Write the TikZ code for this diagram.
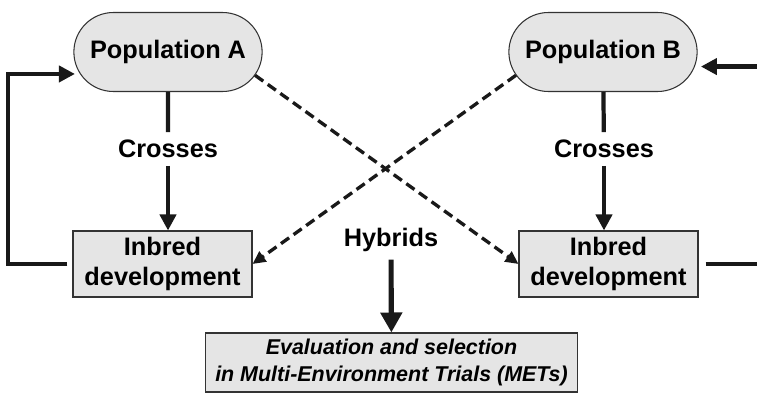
\documentclass[tikz,border=0pt]{standalone}
\usepackage{fontspec}
\setmainfont{Liberation Sans}
\usetikzlibrary{arrows.meta,shapes.misc}
\begin{document}
\begin{tikzpicture}[x=0.02cm, y=-0.02cm, >={Triangle[length=0.32cm,width=0.32cm]},
    pop/.style={rounded rectangle, draw=black!80, line width=0.6pt, fill=black!10,
        minimum width=4cm, minimum height=1.58cm, font=\fontsize{14.4}{17}\selectfont\bfseries},
    inbred/.style={rectangle, draw=black!80, line width=0.6pt, fill=black!10, align=center,
        minimum width=3.58cm, minimum height=1.32cm, font=\fontsize{14.4}{16.6}\selectfont\bfseries},
    lbl/.style={inner sep=0.15cm, font=\fontsize{14.4}{17}\selectfont\bfseries},
    link/.style={line width=2.4pt, black!90},
    cross/.style={line width=1.9pt, black!90, dash pattern=on 0.2cm off 0.11cm,
        -{Triangle[length=0.26cm,width=0.24cm]}}]
    \useasboundingbox (0,0) rectangle (757,399);
    % the two populations
    \node[pop] (popA) at (168,52) {Population A};
    \node[pop] (popB) at (603,52) {Population B};
    \node[lbl] (crossA) at (168,149) {Crosses};
    \node[lbl] (crossB) at (604,149) {Crosses};
    \node[inbred] (inbA) at (162.5,264) {Inbred\\development};
    \node[inbred] (inbB) at (608.5,264) {Inbred\\development};
    \node[lbl] (hyb) at (391,240) {Hybrids};
    \node[inbred, minimum width=7.46cm, minimum height=1.18cm,
        font=\fontsize{12.2}{15.4}\selectfont\bfseries\itshape] (eval) at (391.5,362.5)
        {Evaluation and selection\\in Multi-Environment Trials (METs)};
    % crosses within each population
    \draw[link] (popA) -- (crossA);
    \draw[link] (popB) -- (crossB);
    \draw[link,->] (crossA) -- (crossA |- inbA.north);
    \draw[link,->] (crossB) -- (crossB |- inbB.north);
    % recycling of inbreds
    \coordinate (loopL) at (8,264);
    \coordinate (loopR) at (757,264);
    \draw[link,->,shorten >=0.1cm] ([xshift=-0.1cm]inbA.west) -- (loopL) |- (popA.194);
    \draw[link] ([xshift=0.14cm]inbB.east) -- (loopR);
    \draw[link,->,shorten >=0.12cm] (loopR |- popB.-9) -- (popB.-9);
    % testers from the other population
    \draw[cross] (popA.-15) -- (inbB.west);
    \draw[cross] (popB.195) -- (inbA.east);
    \draw[line width=2.9pt, black!90, -{Triangle[length=0.4cm,width=0.42cm]}] (hyb) -- (eval);
\end{tikzpicture}
\end{document}
